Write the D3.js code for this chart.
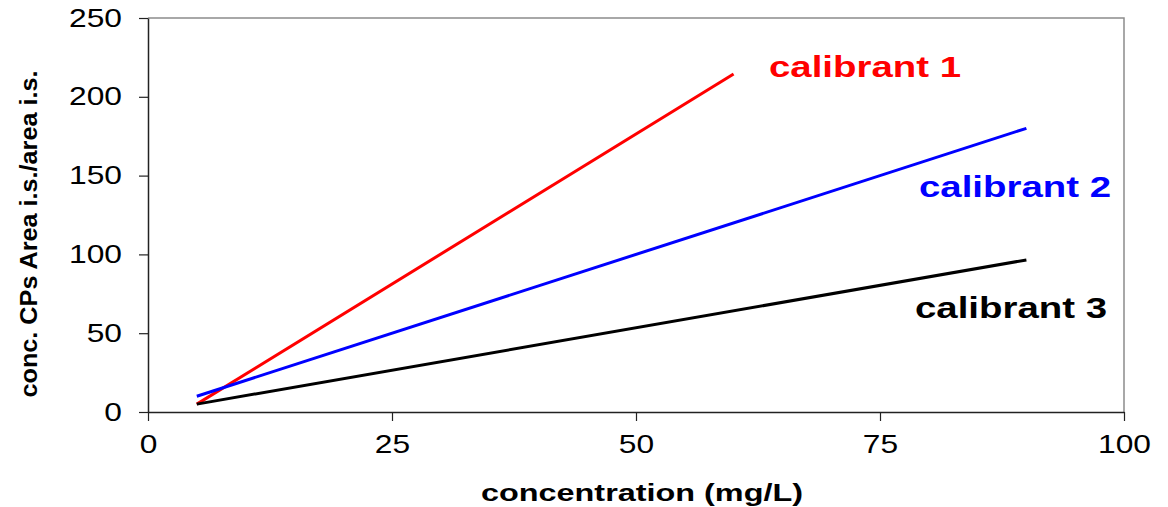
<!DOCTYPE html>
<html>
<head>
<meta charset="utf-8">
<script src="https://cdn.jsdelivr.net/npm/d3@7"></script>
<style>
  body { margin: 0; background: #fff; }
  svg text { font-family: "Liberation Sans", Arial, sans-serif; }
</style>
</head>
<body>
<svg id="chart" width="1168" height="507"></svg>
<script>
// calibration lines (x in mg/L, y in area ratio)
const seriesNames = ["calibrant 1", "calibrant 2", "calibrant 3"]
const seriesColors = ["#ff0000", "#0000ff", "#000000"]
const calibrant1 = [{x: 5, y: 5}, {x: 60, y: 214.5}]
const calibrant2 = [{x: 5, y: 10}, {x: 90, y: 180}]
const calibrant3 = [{x: 5, y: 5}, {x: 90, y: 96.5}]
const xTicks = [0, 25, 50, 75, 100]
const yTicks = [0, 50, 100, 150, 200, 250]

const W = 1168, H = 507
const margin = {top: 18, right: 44, bottom: 95, left: 148}
const stretch = 1.27   // the original picture is widened horizontally

const svg = d3.select("#chart")

const x = d3.scaleLinear().domain([0, 100]).range([margin.left, W - margin.right])
const y = d3.scaleLinear().domain([0, 250]).range([H - margin.bottom, margin.top])

// widen text like in the reference
function widen(sel, k) {
    sel.each(function () {
        const len = this.getComputedTextLength()
        d3.select(this).attr("textLength", len * k).attr("lengthAdjust", "spacingAndGlyphs")
    })
}

// plot frame: grey top and right
svg.append("path")
    .attr("d", `M${x(0)},${y(250)}H${x(100)}V${y(0)}`)
    .attr("fill", "none")
    .attr("stroke", "#8c8c8c")
    .attr("stroke-width", 1.5)

const xAxis = svg.append("g")
    .attr("transform", `translate(0,${y(0)})`)
    .call(d3.axisBottom(x).tickValues(xTicks).tickSize(9).tickPadding(14).tickSizeOuter(0))
xAxis.select(".domain").attr("stroke", "#222").attr("stroke-width", 1.5)
xAxis.selectAll(".tick line").attr("stroke", "#222").attr("stroke-width", 1.2)
xAxis.selectAll(".tick text")
    .attr("font-size", 25)
    .attr("fill", "#000")
    .attr("font-family", "Liberation Sans, Arial, sans-serif")
    .call(widen, stretch)

const yAxis = svg.append("g")
    .attr("transform", `translate(${x(0)},0)`)
    .call(d3.axisLeft(y).tickValues(yTicks).tickSize(9).tickPadding(17).tickSizeOuter(0))
yAxis.select(".domain").attr("stroke", "#222").attr("stroke-width", 1.5)
yAxis.selectAll(".tick line").attr("stroke", "#222").attr("stroke-width", 1.2)
yAxis.selectAll(".tick text")
    .attr("font-size", 25)
    .attr("fill", "#000")
    .attr("font-family", "Liberation Sans, Arial, sans-serif")
    .call(widen, stretch)

// axis titles
svg.append("text")
    .attr("x", 642)
    .attr("y", 501)
    .attr("text-anchor", "middle")
    .attr("font-size", 23)
    .attr("font-weight", "bold")
    .text("concentration (mg/L)")
    .attr("textLength", 322)
    .attr("lengthAdjust", "spacingAndGlyphs")

svg.append("text")
    .attr("transform", `translate(37,${234}) rotate(-90)`)
    .attr("text-anchor", "middle")
    .attr("font-size", 24)
    .attr("font-weight", "bold")
    .text("conc. CPs Area i.s./area i.s.")
    .attr("textLength", 327)
    .attr("lengthAdjust", "spacingAndGlyphs")

// lines
const line = d3.line().x(d => x(d.x)).y(d => y(d.y))
const allSeries = [calibrant1, calibrant2, calibrant3]

svg.append("g")
    .selectAll("path")
    .data(allSeries)
    .join("path")
    .attr("d", line)
    .attr("fill", "none")
    .attr("stroke", (d, i) => seriesColors[i])
    .attr("stroke-width", 3)

// series labels, placed next to line ends
const labelPos = [[769, 77], [919, 197], [915, 318]]
svg.append("g")
    .selectAll("text")
    .data(seriesNames)
    .join("text")
    .attr("x", (d, i) => labelPos[i][0])
    .attr("y", (d, i) => labelPos[i][1])
    .attr("font-size", 30)
    .attr("font-weight", "bold")
    .attr("fill", (d, i) => seriesColors[i])
    .text(d => d)
    .attr("textLength", 192)
    .attr("lengthAdjust", "spacingAndGlyphs")
</script>
</body>
</html>
